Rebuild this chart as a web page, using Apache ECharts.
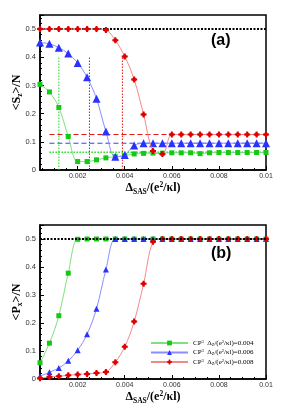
<!DOCTYPE html>
<html><head><meta charset="utf-8">
<script src="https://cdn.jsdelivr.net/npm/echarts@6/dist/echarts.min.js"></script>
<style>html,body{margin:0;padding:0;background:#fff}#c{width:303px;height:414px}</style>
</head><body><div id="c"></div>
<script>
// ---- data ----
const xValues = [0.0004,0.0008,0.0012,0.0016,0.0020,0.0024,0.0028,0.0032,0.0036,0.0040,0.0044,0.0048,0.0052,0.0056,0.0060,0.0064,0.0068,0.0072,0.0076,0.0080,0.0084,0.0088,0.0092,0.0096,0.0100];
const xTickLabels = [0.002,0.004,0.006,0.008,0.01];
const xMinorTicks = [0.0005,0.001,0.0015,0.0025,0.003,0.0035,0.0045,0.005,0.0055,0.0065,0.007,0.0075,0.0085,0.009,0.0095];
const legendNames = ['0.004','0.006','0.008'];
// panel (a): <Sz>/N
const greenA = [0.304,0.277,0.222,0.119,0.030,0.030,0.036,0.043,0.047,0.051,0.057,0.059,0.060,0.060,0.061,0.061,0.061,0.058,0.061,0.062,0.062,0.062,0.062,0.062,0.062];
const blueA  = [0.452,0.448,0.434,0.413,0.380,0.329,0.253,0.137,0.047,0.053,0.087,0.095,0.095,0.095,0.095,0.095,0.095,0.095,0.095,0.095,0.095,0.095,0.095,0.095,0.095];
const redA   = [0.500,0.500,0.500,0.500,0.500,0.500,0.500,0.497,0.460,0.403,0.321,0.197,0.067,0.057,0.126,0.126,0.126,0.126,0.126,0.126,0.126,0.126,0.126,0.126,0.126];
// reference lines in (a)
const hLevels = [0.063,0.095,0.126];      // green, blue, red
const hStartX = 0.0008;
const vLinesX = [0.0012,0.0025,0.0039];   // green, blue, red
const vLineTop = [0.40,0.40,0.40];
const halfLevel = 0.5;
// panel (b): <Px>/N
const greenB = [0.058,0.128,0.226,0.378,0.499,0.500,0.500,0.500,0.500,0.500,0.500,0.500,0.500,0.500,0.500,0.500,0.500,0.500,0.500,0.500,0.500,0.500,0.500,0.500,0.500];
const blueB  = [0.010,0.024,0.039,0.065,0.103,0.160,0.251,0.391,0.500,0.500,0.500,0.500,0.500,0.500,0.500,0.500,0.500,0.500,0.500,0.500,0.500,0.500,0.500,0.500,0.500];
const redB   = [0.003,0.007,0.010,0.013,0.016,0.018,0.021,0.025,0.060,0.115,0.205,0.340,0.490,0.500,0.500,0.500,0.500,0.500,0.500,0.500,0.500,0.500,0.500,0.500,0.500];

// ---- styles ----
const COL = {
  g:{m:'#14c814', l:'#7fe07f'},
  b:{m:'#2a32ff', l:'#8c8cff'},
  r:{m:'#e00000', l:'#f08a8a'}
};
const XMIN = 0.0004, XMAX = 0.01;
const serif = 'Liberation Serif';
const pairs = arr => xValues.map((x,i)=>[x,arr[i]]);

function curve(name, arr, c, symbol, size, xi, yi, z){
  return {
    name, type:'line', xAxisIndex:xi, yAxisIndex:yi, data:pairs(arr),
    smooth:0.35, symbol, symbolSize:size, showSymbol:true,
    lineStyle:{color:c.l, width:1}, itemStyle:{color:c.m, borderWidth:0},
    emphasis:{disabled:true}, z:z||3, animation:false
  };
}
function seg(data, color, type, width, xi, yi, z){
  return {
    type:'line', xAxisIndex:xi, yAxisIndex:yi, data, symbol:'none',
    lineStyle:{color, type, width}, z:z||2, silent:true, animation:false,
    legendHoverLink:false
  };
}
const redSym = 'path://M-1.5,-4.5 L1.5,-4.5 L1.5,-3 L3,-1.5 L4.5,-1.5 L4.5,1.5 L3,1.5 L1.5,3 L1.5,4.5 L-1.5,4.5 L-1.5,3 L-3,1.5 L-4.5,1.5 L-4.5,-1.5 L-3,-1.5 L-1.5,-3 Z';

const richAxis = {
  a:{fontFamily:serif, fontSize:12, fontWeight:'bold', color:'#000', lineHeight:15},
  sub:{fontFamily:serif, fontSize:7.5, fontWeight:'bold', color:'#000', verticalAlign:'bottom', lineHeight:9},
  sup:{fontFamily:serif, fontSize:7.5, fontWeight:'bold', color:'#000', verticalAlign:'top', lineHeight:9}
};

function xAxes(grid){
  return [{
    type:'value', gridIndex:grid, min:XMIN, max:XMAX,
    axisLine:{onZero:false, lineStyle:{color:'#000', width:1.5}},
    axisTick:{inside:true, length:4, customValues:xTickLabels, lineStyle:{color:'#000'}},
    axisLabel:{customValues:xTickLabels, fontSize:7, color:'#333', margin:3, fontFamily:'Liberation Sans',
      formatter:v=>String(+v.toFixed(4))},
    splitLine:{show:false},
    name:'{a|Δ}{sub|SAS}{a|/(e}{sup|2}{a|/κl)}', nameLocation:'middle', nameGap:9,
    nameTextStyle:{rich:richAxis}
  },{
    type:'value', gridIndex:grid, min:XMIN, max:XMAX, position:'bottom',
    axisLine:{show:false},
    axisTick:{inside:true, length:2, customValues:xMinorTicks, lineStyle:{color:'#000'}},
    axisLabel:{show:false}, splitLine:{show:false}
  }];
}
function yAxis(grid, nameStr){
  return {
    type:'value', gridIndex:grid, min:0, max:0.55, interval:0.1,
    axisLine:{onZero:false, lineStyle:{color:'#000', width:1.5}},
    axisTick:{inside:true, length:4, lineStyle:{color:'#000'}},
    minorTick:{show:true, splitNumber:5, length:2, lineStyle:{color:'#000'}},
    axisLabel:{fontSize:7.5, color:'#333', margin:4, fontFamily:'Liberation Sans', showMaxLabel:false,
      formatter:v=>String(+v.toFixed(2))},
    splitLine:{show:false},
    name:nameStr, nameLocation:'middle', nameRotate:90, nameGap:16, nameMoveOverlap:false,
    nameTextStyle:{rich:richAxis}
  };
}

const series = [];
// ---- panel (a) ----
series.push(seg([[XMIN,halfLevel],[XMAX,halfLevel]], '#000', [2,1.5], 2, 0, 0, 4));
series.push(seg([[hStartX,hLevels[0]],[XMAX,hLevels[0]]], '#22dd22', [1.5,1.5], 1.5, 0, 0));
series.push(seg([[hStartX,hLevels[1]],[XMAX,hLevels[1]]], '#3a3aff', [5,3], 1, 0, 0));
series.push(seg([[hStartX,hLevels[2]],[XMAX,hLevels[2]]], '#ee1111', [5,3], 1, 0, 0));
series.push(seg([[vLinesX[0],0],[vLinesX[0],vLineTop[0]]], '#22dd22', [1.5,1.5], 1, 0, 0));
series.push(seg([[vLinesX[1],0],[vLinesX[1],vLineTop[1]]], '#3a3aff', [1.5,1.5], 1, 0, 0));
series.push(seg([[vLinesX[2],0],[vLinesX[2],vLineTop[2]]], '#ee1111', [1.5,1.5], 1, 0, 0));
series.push(curve('ga', greenA, COL.g, 'rect', 5, 0, 0));
const redCurveA = curve('ra', redA, COL.r, redSym, 6, 0, 0, 5);
redCurveA.smoothConstraint = false;
series.push(redCurveA);
series.push(curve('ba', blueA, COL.b, 'triangle', 8, 0, 0));
// ---- panel (b) ----
series.push(curve(legendNames[0], greenB, COL.g, 'rect', 5, 2, 1));
series.push(curve(legendNames[1], blueB, COL.b, 'triangle', 6, 2, 1));
series.push(curve(legendNames[2], redB, COL.r, redSym, 6, 2, 1));
series.push(seg([[XMIN,halfLevel],[XMAX,halfLevel]], '#000', [2,1.5], 2, 2, 1, 6));

const legendTops = [337, 346.5, 356];
const legends = legendNames.map((n,i)=>({
  data:[n], orient:'vertical', left:150, top:legendTops[i], itemGap:0, padding:0,
  itemWidth:37, itemHeight:6, selectedMode:false,
  formatter:v=>'{t|CP}{s|3} {t|Δ}{b|Z}{t|/(e}{s|2}{t|/κl)='+v+'}',
  textStyle:{padding:0, lineHeight:8, rich:{
    t:{fontFamily:serif, fontSize:7, color:'#000', lineHeight:8},
    s:{fontFamily:serif, fontSize:4.5, color:'#000', verticalAlign:'top', lineHeight:5},
    b:{fontFamily:serif, fontSize:4.5, color:'#000', verticalAlign:'bottom', lineHeight:5}
  }}
}));

const chart = echarts.init(document.getElementById('c'), null, {renderer:'canvas'});
chart.setOption({
  animation:false,
  backgroundColor:'#fff',
  grid:[
    {left:40, top:15, width:226, height:155, show:true, borderColor:'#000', borderWidth:1.5, backgroundColor:'transparent', outerBoundsMode:'none', containLabel:false},
    {left:40, top:225, width:226, height:154, show:true, borderColor:'#000', borderWidth:1.5, backgroundColor:'transparent', outerBoundsMode:'none', containLabel:false}
  ],
  xAxis:[...xAxes(0), ...xAxes(1)],
  yAxis:[yAxis(0,'{a|<S}{sub|z}{a|>/N}'), yAxis(1,'{a|<P}{sub|x}{a|>/N}')],
  legend:legends,
  graphic:[
    {type:'text', left:211, top:33, style:{text:'(a)', font:'bold 16px "Liberation Sans"', fill:'#000'}},
    {type:'text', left:211, top:246, style:{text:'(b)', font:'bold 16px "Liberation Sans"', fill:'#000'}}
  ],
  series
});
</script>
</body></html>
